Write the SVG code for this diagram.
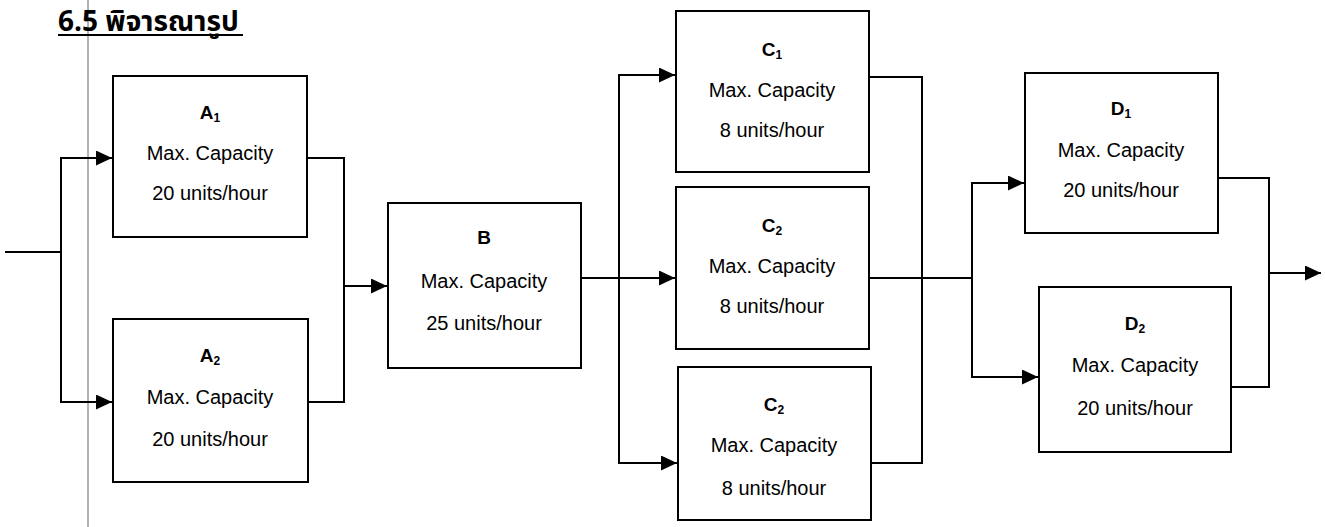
<svg xmlns="http://www.w3.org/2000/svg" width="1325" height="527" viewBox="0 0 1325 527">
<defs>
<marker id="arr" markerUnits="userSpaceOnUse" markerWidth="17" markerHeight="15" refX="16" refY="7.5" orient="auto">
<path d="M0,0 L16,7.5 L0,15 Z" fill="#000"/>
</marker>
<style>
.box{fill:#fff;stroke:#000;stroke-width:2}
.c{fill:none;stroke:#000;stroke-width:2}
.t{font-family:"Liberation Sans",Arial,sans-serif;font-size:20px;fill:#000;text-anchor:middle}
.h{font-weight:bold;font-size:19px}
.s{font-size:12px}
</style>
</defs>
<rect width="1325" height="527" fill="#fff"/>
<line x1="88" y1="0" x2="88" y2="527" stroke="#666" stroke-width="1"/>
<g id="title">
<text x="58" y="31" font-family="'Noto Sans Thai','Loma','Garuda','DejaVu Sans','Liberation Sans',sans-serif" font-size="28" font-weight="bold">6.5 พิจารณารูป</text>
<line x1="58" y1="35" x2="243" y2="35" stroke="#000" stroke-width="2"/>
</g>
<g id="connectors">
<path class="c" d="M5,252 H61 V158 H112" marker-end="url(#arr)"/>
<path class="c" d="M61,252 V402 H112" marker-end="url(#arr)"/>
<path class="c" d="M307,158 H344 V402 H308"/>
<path class="c" d="M344,286 H387" marker-end="url(#arr)"/>
<path class="c" d="M581,278 H675" marker-end="url(#arr)"/>
<path class="c" d="M619,278 V75 H675" marker-end="url(#arr)"/>
<path class="c" d="M619,278 V463 H677" marker-end="url(#arr)"/>
<path class="c" d="M869,77 H922 V463 H871"/>
<path class="c" d="M869,278 H972"/>
<path class="c" d="M972,278 V183 H1024" marker-end="url(#arr)"/>
<path class="c" d="M972,278 V377 H1038" marker-end="url(#arr)"/>
<path class="c" d="M1218,178 H1269 V387 H1231"/>
<path class="c" d="M1269,273 H1321" marker-end="url(#arr)"/>
</g>
<g id="A1">
<rect class="box" x="113" y="76" width="194" height="161"/>
<text class="t h" x="210" y="119">A<tspan class="s" dy="3">1</tspan></text>
<text class="t" x="210" y="160">Max. Capacity</text>
<text class="t" x="210" y="200">20 units/hour</text>
</g>
<g id="A2">
<rect class="box" x="113" y="319" width="195" height="163"/>
<text class="t h" x="210" y="362">A<tspan class="s" dy="3">2</tspan></text>
<text class="t" x="210" y="404">Max. Capacity</text>
<text class="t" x="210" y="446">20 units/hour</text>
</g>
<g id="B">
<rect class="box" x="388" y="203" width="193" height="165"/>
<text class="t h" x="484" y="244">B</text>
<text class="t" x="484" y="288">Max. Capacity</text>
<text class="t" x="484" y="330">25 units/hour</text>
</g>
<g id="C1">
<rect class="box" x="676" y="11" width="193" height="161"/>
<text class="t h" x="772" y="56">C<tspan class="s" dy="3">1</tspan></text>
<text class="t" x="772" y="97">Max. Capacity</text>
<text class="t" x="772" y="137">8 units/hour</text>
</g>
<g id="C2">
<rect class="box" x="676" y="187" width="193" height="162"/>
<text class="t h" x="772" y="232">C<tspan class="s" dy="3">2</tspan></text>
<text class="t" x="772" y="273">Max. Capacity</text>
<text class="t" x="772" y="313">8 units/hour</text>
</g>
<g id="C3">
<rect class="box" x="678" y="367" width="193" height="153"/>
<text class="t h" x="774" y="411">C<tspan class="s" dy="3">2</tspan></text>
<text class="t" x="774" y="452">Max. Capacity</text>
<text class="t" x="774" y="495">8 units/hour</text>
</g>
<g id="D1">
<rect class="box" x="1025" y="73" width="193" height="160"/>
<text class="t h" x="1121" y="115">D<tspan class="s" dy="3">1</tspan></text>
<text class="t" x="1121" y="157">Max. Capacity</text>
<text class="t" x="1121" y="197">20 units/hour</text>
</g>
<g id="D2">
<rect class="box" x="1039" y="287" width="192" height="165"/>
<text class="t h" x="1135" y="330">D<tspan class="s" dy="3">2</tspan></text>
<text class="t" x="1135" y="372">Max. Capacity</text>
<text class="t" x="1135" y="415">20 units/hour</text>
</g>
</svg>
